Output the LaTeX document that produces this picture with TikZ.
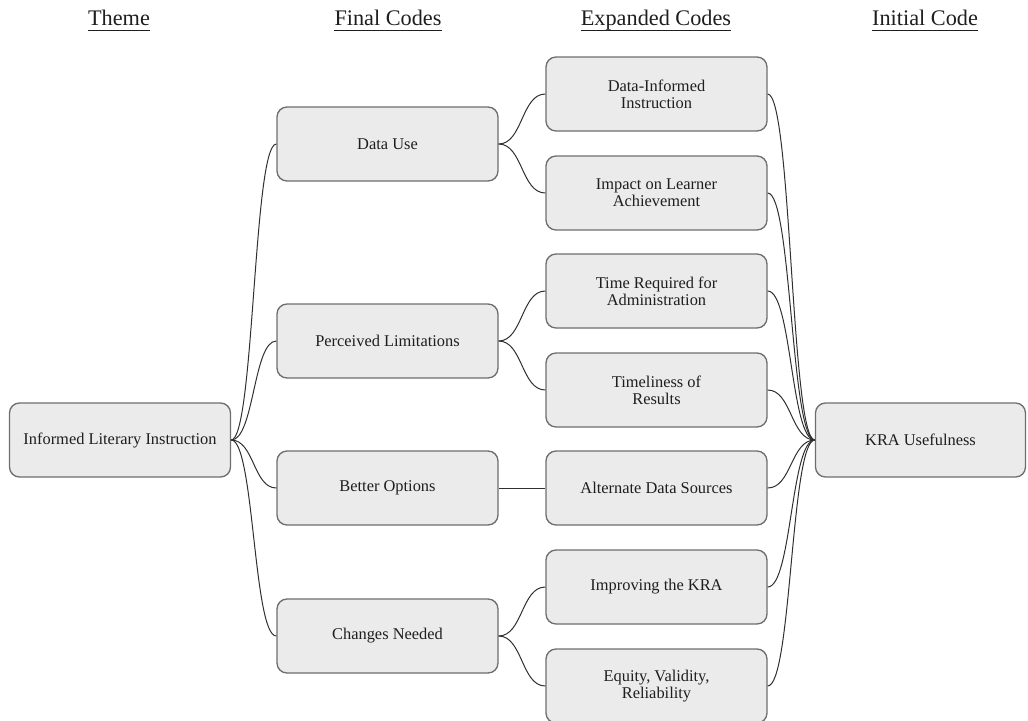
\documentclass[tikz,border=0pt]{standalone}
\usepackage{fontspec}
\setmainfont{Liberation Serif}
\begin{document}
\begin{tikzpicture}[x=0.75pt,y=-0.75pt,
  codebox/.style={draw=boxline, fill=boxfill, line width=1pt, rounded corners=7.5pt,
    minimum width=165.75pt, minimum height=55.5pt, inner sep=0pt, align=center,
    text=textcol, font=\fontsize{12.3}{13}\selectfont},
  header/.style={anchor=base, inner sep=0pt, text=textcol, font=\fontsize{16.7}{18}\selectfont},
  conn/.style={draw=linecol, line width=0.75pt},
  uline/.style={draw=textcol, line width=0.7pt}]
\definecolor{boxfill}{HTML}{EBEBEB}
\definecolor{boxline}{HTML}{6E6E6E}
\definecolor{linecol}{HTML}{303030}
\definecolor{textcol}{HTML}{1E1E1E}
\useasboundingbox (0,0) rectangle (1028,721);

% column headings
\node[header] (hTheme) at (119,26) {Theme};
\node[header] (hFinal) at (388,26) {Final Codes};
\node[header] (hExp) at (656,26) {Expanded Codes};
\node[header] (hInit) at (925,26) {Initial Code};
\foreach \h in {hTheme,hFinal,hExp,hInit}
  \draw[uline] ([yshift=-3.2pt]\h.base west) -- ([yshift=-3.2pt]\h.base east);

% theme
\node[codebox] (ili) at (120,440) {Informed Literary Instruction};

% final codes
\node[codebox] (du) at (387.5,144) {Data Use};
\node[codebox] (pl) at (387.5,341) {Perceived Limitations};
\node[codebox] (bo) at (387.5,488) {Better Options};
\node[codebox] (cn) at (387.5,636) {Changes Needed};

% expanded codes
\node[codebox] (e1) at (656.5,94) {Data-Informed\\Instruction};
\node[codebox] (e2) at (656.5,193) {Impact on Learner\\Achievement};
\node[codebox] (e3) at (656.5,291) {Time Required for\\Administration};
\node[codebox] (e4) at (656.5,390) {Timeliness of\\Results};
\node[codebox] (e5) at (656.5,488) {Alternate Data Sources};
\node[codebox] (e6) at (656.5,587) {Improving the KRA};
\node[codebox] (e7) at (656.5,686) {Equity, Validity,\\Reliability};

% initial code
\node[codebox, minimum width=157.5pt] (kra) at (920.5,440) {KRA Usefulness};

% theme to final codes
\foreach \t in {du,pl,bo,cn}
  \draw[conn] (ili.east) .. controls +(23,0) and +(-23,0) .. (\t.west);

% final codes to expanded codes
\draw[conn] (du.east) .. controls +(24,0) and +(-24,0) .. (e1.west);
\draw[conn] (du.east) .. controls +(24,0) and +(-24,0) .. (e2.west);
\draw[conn] (pl.east) .. controls +(24,0) and +(-24,0) .. (e3.west);
\draw[conn] (pl.east) .. controls +(24,0) and +(-24,0) .. (e4.west);
\draw[conn] (bo.east) -- (e5.west);
\draw[conn] (cn.east) .. controls +(24,0) and +(-24,0) .. (e6.west);
\draw[conn] (cn.east) .. controls +(24,0) and +(-24,0) .. (e7.west);

% expanded codes to initial code
\foreach \e in {e1,e2,e3,e4,e5,e6,e7}
  \draw[conn] (\e.east) .. controls +(24,0) and +(-24,0) .. (kra.west);
\end{tikzpicture}
\end{document}
